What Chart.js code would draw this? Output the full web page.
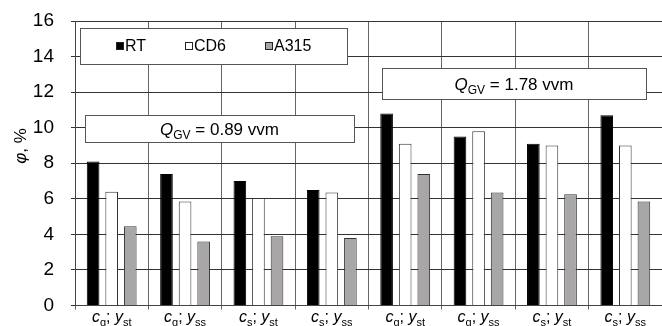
<!DOCTYPE html>
<html>
<head>
<meta charset="utf-8">
<script src="https://cdn.jsdelivr.net/npm/chart.js@4/dist/chart.umd.min.js"></script>
<style>
  html, body { margin: 0; padding: 0; background: #fff; }
  #wrap { width: 662px; height: 326px; position: relative; }
</style>
</head>
<body>
<div id="wrap"><canvas id="chart"></canvas></div>
<script>
// Category labels: concentration subscript and y subscript
const catConc = ['g', 'g', 's', 's', 'g', 'g', 's', 's'];
const catY = ['st', 'ss', 'st', 'ss', 'st', 'ss', 'st', 'ss'];

// Series values (phi, %)
const rtValues = [8.1, 7.4, 7.0, 6.5, 10.8, 9.5, 9.1, 10.7];
const cd6Values = [6.4, 5.85, 6.05, 6.35, 9.1, 9.8, 9.0, 9.0];
const a315Values = [4.45, 3.6, 3.9, 3.8, 7.4, 6.35, 6.25, 5.85];

const yTicks = [0, 2, 4, 6, 8, 10, 12, 14, 16];

const FONT = '"Liberation Sans", Arial, sans-serif';

// Draw a run of text pieces, each {t, it, sub}, centered on cx
function drawRich(ctx, parts, cx, y, size) {
  const fontFor = p => (p.it ? 'italic ' : '') + (p.sub ? Math.round(size * 0.68) : size) + 'px ' + FONT;
  let total = 0;
  parts.forEach(p => { ctx.font = fontFor(p); total += ctx.measureText(p.t).width; });
  let x = cx - total / 2;
  ctx.textAlign = 'left';
  ctx.textBaseline = 'alphabetic';
  parts.forEach(p => {
    ctx.font = fontFor(p);
    ctx.fillText(p.t, x, p.sub ? y + size * 0.25 : y);
    x += ctx.measureText(p.t).width;
  });
}

function box(ctx, x1, y1, x2, y2) {
  ctx.fillStyle = '#fff';
  ctx.fillRect(x1, y1, x2 - x1, y2 - y1);
  ctx.strokeStyle = '#555';
  ctx.lineWidth = 1;
  ctx.strokeRect(x1 + 0.5, y1 + 0.5, x2 - x1, y2 - y1);
}

const decorPlugin = {
  id: 'decor',
  afterDraw(chart) {
    const ctx = chart.ctx;
    const xs = chart.scales.x;
    ctx.save();
    ctx.fillStyle = '#000';

    // x category labels
    for (let i = 0; i < catConc.length; i++) {
      const cx = xs.getPixelForValue(i);
      drawRich(ctx, [
        { t: 'c', it: true }, { t: catConc[i], sub: true },
        { t: '; ' }, { t: 'y', it: true }, { t: catY[i], sub: true }
      ], cx, 322, 16);
    }

    // y title, rotated
    ctx.save();
    ctx.translate(26, 146);
    ctx.rotate(-Math.PI / 2);
    ctx.fillStyle = '#000';
    drawRich(ctx, [{ t: '\u03c6', it: true }, { t: ', %' }], 0, 0, 17);
    ctx.restore();

    // legend box
    box(ctx, 80, 28, 347, 64);
    const items = [
      { x: 116, label: 'RT', fill: '#000' },
      { x: 185, label: 'CD6', fill: '#fff' },
      { x: 265, label: 'A315', fill: '#a6a6a6' }
    ];
    items.forEach(it => {
      ctx.fillStyle = it.fill;
      ctx.fillRect(it.x, 42, 8, 8);
      ctx.strokeStyle = '#222';
      ctx.strokeRect(it.x + 0.5, 42.5, 7, 7);
      ctx.fillStyle = '#000';
      ctx.font = '16px ' + FONT;
      ctx.textAlign = 'left';
      ctx.textBaseline = 'alphabetic';
      ctx.fillText(it.label, it.x + 9, 51);
    });

    // Q_GV annotation boxes
    box(ctx, 85, 115, 354, 142);
    ctx.fillStyle = '#000';
    drawRich(ctx, [{ t: 'Q', it: true }, { t: 'GV', sub: true }, { t: ' = 0.89 vvm' }], 219.5, 134.5, 17);

    box(ctx, 382, 68, 646, 99);
    ctx.fillStyle = '#000';
    drawRich(ctx, [{ t: 'Q', it: true }, { t: 'GV', sub: true }, { t: ' = 1.78 vvm' }], 514, 89.5, 17);

    ctx.restore();
  }
};

new Chart(document.getElementById('chart'), {
  type: 'bar',
  data: {
    labels: catConc.map((c, i) => 'c' + c + '; y' + catY[i]),
    datasets: [
      { label: 'RT', data: rtValues, backgroundColor: '#000', borderColor: '#000', borderWidth: 1 },
      { label: 'CD6', data: cd6Values, backgroundColor: '#fff', borderColor: '#333', borderWidth: 1 },
      { label: 'A315', data: a315Values, backgroundColor: '#a8a6a6', borderColor: '#333', borderWidth: 1 }
    ]
  },
  options: {
    responsive: true,
    maintainAspectRatio: false,
    animation: false,
    devicePixelRatio: 1,
    categoryPercentage: 0.76,
    barPercentage: 0.68,
    layout: { padding: { top: 21, right: 0, left: 0, bottom: 0 } },
    plugins: {
      legend: { display: false },
      tooltip: { enabled: false }
    },
    scales: {
      x: {
        grid: { color: '#666', lineWidth: 1, offset: true, tickLength: 4, drawTicks: true },
        border: { color: '#444' },
        ticks: { display: false },
        afterFit(scale) { scale.height = 20.5; }
      },
      y: {
        min: 0,
        max: 16,
        afterBuildTicks(scale) { scale.ticks = yTicks.map(v => ({ value: v })); },
        grid: { color: '#333', lineWidth: 1, tickLength: 4 },
        border: { color: '#444' },
        ticks: {
          font: { family: FONT, size: 19 },
          color: '#000',
          padding: 17
        },
        afterFit(scale) {
          scale.width = 75;
          scale.paddingTop = 0;
          scale.paddingBottom = 0;
        }
      }
    }
  },
  plugins: [decorPlugin]
});
</script>
</body>
</html>
